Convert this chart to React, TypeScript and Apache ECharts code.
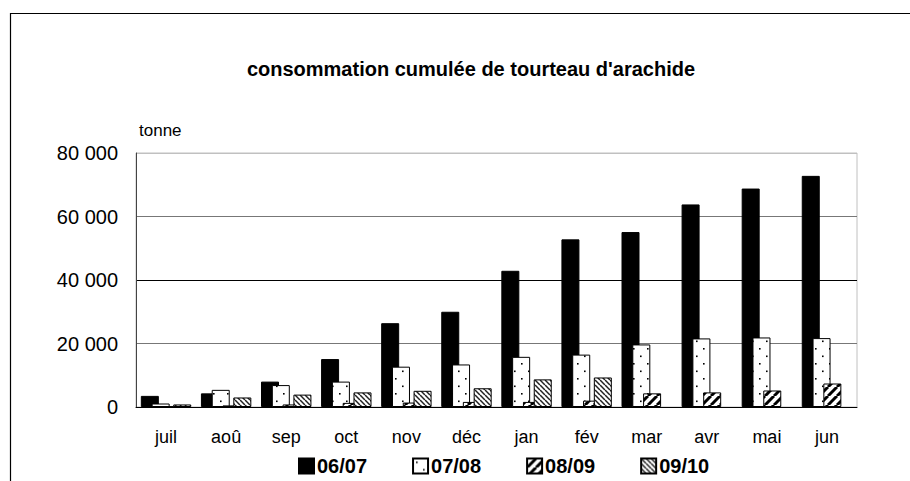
import React, { useEffect, useRef } from "react";
import * as echarts from "echarts";

const months = ["juil", "aoû", "sep", "oct", "nov", "déc", "jan", "fév", "mar", "avr", "mai", "jun"];
const seriesNames = ["06/07", "07/08", "08/09", "09/10"];
const s0607 = [3500, 4300, 8000, 15100, 26400, 30000, 42900, 52800, 55100, 63800, 68800, 72800];
const s0708 = [1100, 5400, 6900, 8000, 12700, 13400, 15800, 16500, 19700, 21600, 21900, 21700];
const s0809 = [200, 500, 800, 1300, 1400, 1600, 1600, 2000, 4300, 4600, 5200, 7400];
const s0910 = [800, 3000, 3900, 4600, 5100, 5900, 8700, 9300, null, null, null, null];
const yTicks = [0, 20000, 40000, 60000, 80000];

function makePattern(kind: string) {
  const c = document.createElement("canvas");
  let w = 8, h = 8;
  if (kind === "dots") { w = 14; h = 15; }
  if (kind === "fwd") { w = 9; h = 9; }
  if (kind === "back") { w = 5; h = 5; }
  c.width = w; c.height = h;
  const ctx = c.getContext("2d")!;
  ctx.fillStyle = "#fff";
  ctx.fillRect(0, 0, w, h);
  ctx.fillStyle = "#000";
  ctx.strokeStyle = "#000";
  if (kind === "dots") {
    ctx.fillRect(3, 3, 1.6, 1.6);
    ctx.fillRect(10, 10.5, 1.6, 1.6);
  } else if (kind === "fwd") {
    ctx.lineWidth = 3;
    for (const o of [-w, 0, w]) {
      ctx.beginPath();
      ctx.moveTo(o, h);
      ctx.lineTo(o + w, 0);
      ctx.stroke();
    }
  } else if (kind === "back") {
    ctx.lineWidth = 1.5;
    ctx.strokeStyle = "#222";
    for (const o of [-w, 0, w]) {
      ctx.beginPath();
      ctx.moveTo(o, 0);
      ctx.lineTo(o + w, h);
      ctx.stroke();
    }
  }
  return { image: c, repeat: "repeat", imageWidth: w, imageHeight: h } as any;
}

const fmt = (v: number) => String(v).replace(/\B(?=(\d{3})+(?!\d))/g, " ");

export default function App() {
  const ref = useRef<HTMLDivElement>(null);
  useEffect(() => {
    if (!ref.current) return;
    const chart = echarts.init(ref.current, undefined, { renderer: "svg" });
    const font = "'Liberation Sans', Arial, sans-serif";
    const fills = ["#000", makePattern("dots"), makePattern("fwd"), makePattern("back")];
    const datas = [s0607, s0708, s0809, s0910];
    chart.setOption({
      animation: false,
      backgroundColor: "#fff",
      textStyle: { fontFamily: font },
      title: {
        text: "consommation cumulée de tourteau d'arachide",
        left: 466,
        top: 54,
        textAlign: "center",
        textStyle: { fontFamily: font, fontWeight: "bold", fontSize: 20, color: "#000" },
      },
      legend: {
        left: 293,
        top: 451,
        itemWidth: 15,
        itemHeight: 15,
        itemGap: 45,
        icon: "rect",
        textStyle: { fontFamily: font, fontWeight: "bold", fontSize: 20, color: "#000", padding: [0, 0, 0, -2] },
        data: seriesNames,
      },
      graphic: [
        {
          type: "rect",
          shape: { x: 10.5, y: 13.5, width: 1000, height: 1000 },
          style: { fill: "none", stroke: "#000", lineWidth: 1.2 },
          silent: true,
        },
      ],
      grid: {
        left: 136,
        right: 53,
        top: 153,
        bottom: 74,
        show: true,
        borderColor: "#c0c0c0",
        borderWidth: 1,
      },
      xAxis: {
        type: "category",
        data: months,
        axisLine: { lineStyle: { color: "#000", width: 1 } },
        axisTick: { show: false },
        axisLabel: { color: "#000", fontSize: 18, fontFamily: font, margin: 21 },
      },
      yAxis: {
        type: "value",
        min: yTicks[0],
        max: yTicks[yTicks.length - 1],
        interval: 20000,
        name: "tonne",
        nameLocation: "end",
        nameGap: 23,
        nameTextStyle: { align: "left", verticalAlign: "middle", fontSize: 17, color: "#000", fontFamily: font, padding: [0, 0, 0, 3] },
        axisLine: { show: true, lineStyle: { color: "#444", width: 1 } },
        axisTick: { show: false },
        axisLabel: { color: "#000", fontSize: 20, fontFamily: font, margin: 18, formatter: (v: number) => fmt(v) },
        splitLine: { lineStyle: { color: ["#000", "#777", "#000", "#777", "#c0c0c0"], width: 1 } },
      },
      series: seriesNames.map((name, i) => ({
        name,
        type: "bar",
        data: datas[i],
        barWidth: 18,
        barGap: "-40%",
        itemStyle: { color: fills[i], borderColor: "#000", borderWidth: 1 },
      })),
    });
    return () => chart.dispose();
  }, []);
  return <div ref={ref} style={{ position: "fixed", left: 0, top: 0, width: 910, height: 481 }} />;
}
